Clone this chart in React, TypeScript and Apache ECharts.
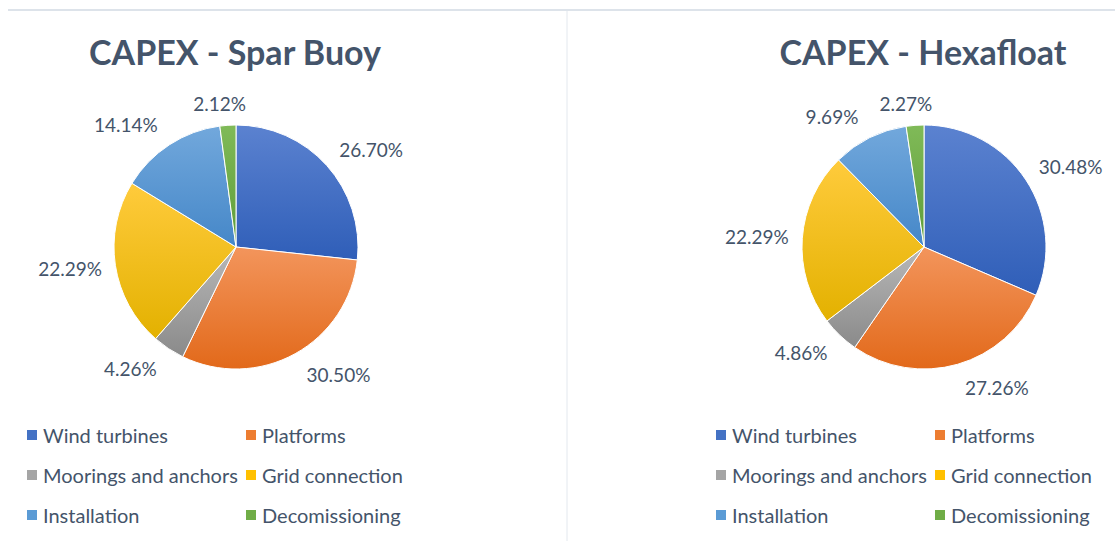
import React, { useEffect, useRef } from "react";
import * as echarts from "echarts";

const categories = [
  "Wind turbines",
  "Platforms",
  "Moorings and anchors",
  "Grid connection",
  "Installation",
  "Decomissioning",
];
const sparBuoy = [26.7, 30.5, 4.26, 22.29, 14.14, 2.12];
const hexafloat = [30.48, 27.26, 4.86, 22.29, 9.69, 2.27];
const titles = ["CAPEX - Spar Buoy", "CAPEX - Hexafloat"];

const gradTop = ["#5B82D0", "#F3955C", "#B8B8B8", "#FFCB3C", "#72A8DC", "#80BA58"];
const gradBottom = ["#2F5EB8", "#E2691A", "#8A8A8A", "#E3B100", "#4587C8", "#5E9C38"];
const legendColors = ["#4472C4", "#ED7D31", "#A5A5A5", "#FFC000", "#5B9BD5", "#70AD47"];

const FONT = "Lato, 'Open Sans', sans-serif";
const TEXT = "#44546A";

const CY = 247;
const R = 122;
const centersX = [236, 924];
const seriesValues = [sparBuoy, hexafloat];

function midAngle(values: number[], idx: number) {
  const total = values.reduce((a, b) => a + b, 0);
  let before = 0;
  for (let i = 0; i < idx; i++) before += values[i];
  return ((before + values[idx] / 2) / total) * Math.PI * 2;
}

function buildSeries(name: string, values: number[], cx: number) {
  return {
    type: "pie",
    name,
    center: [cx, CY],
    radius: R,
    startAngle: 90,
    clockwise: true,
    avoidLabelOverlap: false,
    data: categories.map((c, i) => ({
      name: c,
      value: values[i],
      itemStyle: {
        color: new echarts.graphic.LinearGradient(0, 0, 0, 1, [
          { offset: 0, color: gradTop[i] },
          { offset: 1, color: gradBottom[i] },
        ]),
      },
    })),
    itemStyle: { borderColor: "#ffffff", borderWidth: 1 },
    label: {
      show: true,
      position: "outside",
      formatter: (p: any) => p.value.toFixed(2) + "%",
      color: TEXT,
      fontSize: 19,
      fontFamily: FONT,
    },
    labelLine: { show: false, length: 14, length2: 6 },
    labelLayout: (p: any) => {
      const vals = seriesValues[p.seriesIndex];
      const th = midAngle(vals, p.dataIndex);
      const s = Math.sin(th);
      const c = Math.cos(th);
      const w = p.labelRect ? p.labelRect.width : 60;
      const k = Math.max(-1, Math.min(1, s / 0.3));
      const x = centersX[p.seriesIndex] + (R + 4) * s + k * (w / 2 + 9.5);
      const y = CY - (R + 24) * c + (c > 0.95 ? 2 : 0);
      return { x, y, align: "center", verticalAlign: "middle" };
    },
    emphasis: { disabled: true },
  };
}

function legendCol(items: string[], left: number) {
  return {
    orient: "vertical",
    left,
    top: 425,
    padding: 0,
    data: items.map((n) => ({
      name: n,
      itemStyle: { color: legendColors[categories.indexOf(n)] },
    })),
    icon: "rect",
    itemWidth: 12,
    itemHeight: 12,
    itemGap: 20,
    textStyle: { color: TEXT, fontSize: 20, lineHeight: 20, fontFamily: FONT },
    selectedMode: false,
  };
}

export default function App() {
  const ref = useRef<HTMLDivElement>(null);
  useEffect(() => {
    if (!ref.current) return;
    const chart = echarts.init(ref.current, undefined, { renderer: "svg" });
    const col1 = [categories[0], categories[2], categories[4]];
    const col2 = [categories[1], categories[3], categories[5]];
    chart.setOption({
      animation: false,
      backgroundColor: "#ffffff",
      color: legendColors,
      title: titles.map((t, i) => ({
        text: t,
        left: centersX[i] - 6,
        top: 29,
        textAlign: "center",
        textStyle: { color: TEXT, fontSize: 34, fontWeight: "bold", fontFamily: FONT },
      })),
      legend: [
        legendCol(col1, 25),
        legendCol(col2, 244),
        legendCol(col1, 714),
        legendCol(col2, 933),
      ],
      graphic: [
        {
          type: "line",
          shape: { x1: 8, y1: 10, x2: 1115, y2: 10 },
          style: { stroke: "#DDE3EA", lineWidth: 2 },
        },
        {
          type: "line",
          shape: { x1: 567, y1: 11, x2: 567, y2: 541 },
          style: { stroke: "#E3E8EE", lineWidth: 1 },
        },
      ],
      series: [buildSeries(titles[0], sparBuoy, centersX[0]), buildSeries(titles[1], hexafloat, centersX[1])],
    });
    return () => chart.dispose();
  }, []);
  return (
    <div
      ref={ref}
      style={{ position: "fixed", left: 0, top: 0, width: 1115, height: 541 }}
    />
  );
}
